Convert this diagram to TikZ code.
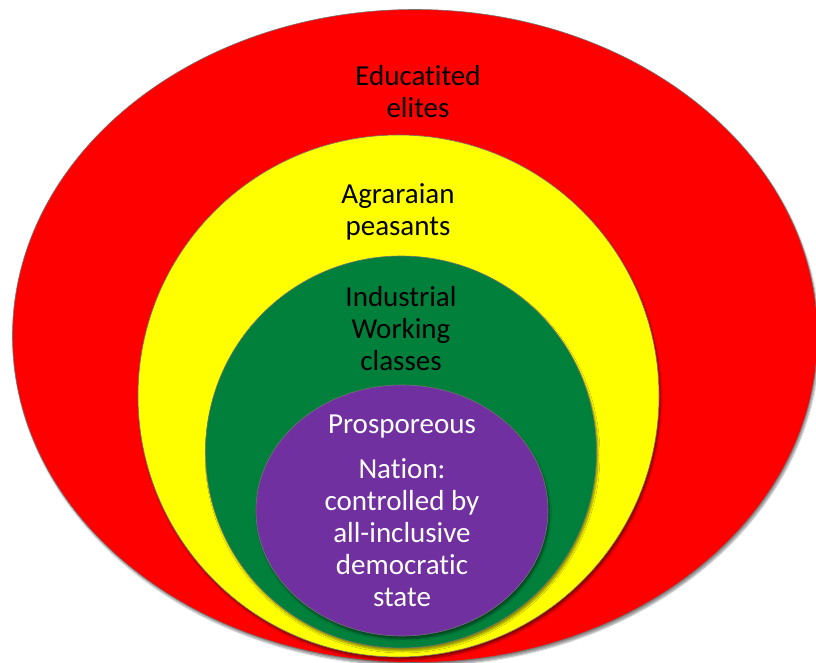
\documentclass[tikz,border=0pt]{standalone}
\usepackage{fontspec}
\setmainfont[Ligatures=CommonOff]{Carlito}
\usetikzlibrary{shapes.geometric,shadows.blur}
\definecolor{cRed}{RGB}{255,0,0}
\definecolor{cYellow}{RGB}{255,255,0}
\definecolor{cGreen}{RGB}{0,128,58}
\definecolor{cPurple}{RGB}{112,48,160}
\tikzset{
  ring/.style={ellipse, inner sep=0pt, draw=black!55, line width=0.6pt,
    blur shadow={shadow xshift=1.5pt, shadow yshift=-3pt, shadow blur steps=6, shadow opacity=45}},
  lbl/.style={align=center, inner sep=0pt, font=\fontsize{29}{32}\selectfont},
}
\begin{document}
\begin{tikzpicture}[x=1pt,y=-1pt]
  \useasboundingbox (0,0) rectangle (816,663);
  \node[ring, fill=cRed, minimum width=805pt, minimum height=653pt] (red) at (415,336) {};
  \node[ring, fill=cYellow, minimum width=521pt, minimum height=522pt] (yellow) at (398.5,396) {};
  \node[ring, fill=cGreen, minimum width=391pt, minimum height=392pt] (green) at (401,452) {};
  \node[ring, fill=cPurple, minimum width=292pt, minimum height=251pt] (purple) at (402,510.5) {};
  \node[lbl] (tred) at (418,92) {Educatited\\elites};
  \node[lbl] (tyellow) at (398,212) {Agraraian\\peasants};
  \node[lbl] (tgreen) at (401,329) {Industrial\\Working\\classes};
  \node[lbl, text=white] (tpurple) at (402,511) {Prosporeous\\[13pt]Nation:\\controlled by\\all-inclusive\\democratic\\state};
\end{tikzpicture}
\end{document}
